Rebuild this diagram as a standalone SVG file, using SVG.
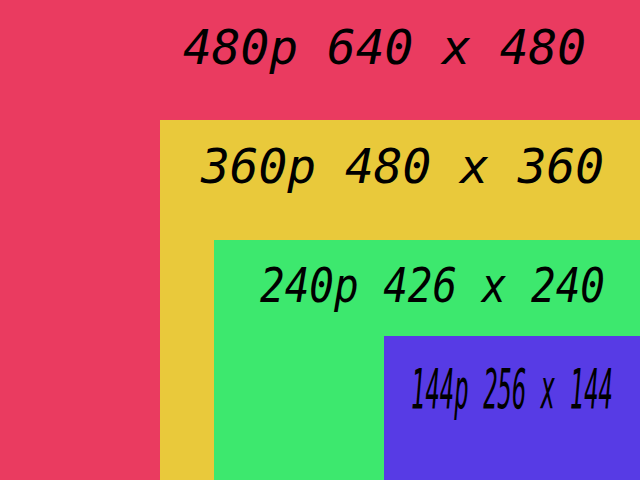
<svg xmlns="http://www.w3.org/2000/svg" width="640" height="480" viewBox="0 0 640 480">
<style>
text{font-family:"DejaVu Sans Mono",monospace;font-style:italic;fill:#000}
</style>
<g id="r480"><rect x="0" y="0" width="640" height="480" fill="#EA3B60"/>
<text x="183" y="64" font-size="48" textLength="403" lengthAdjust="spacingAndGlyphs">480p 640 x 480</text></g>
<g id="r360"><rect x="160" y="120" width="480" height="360" fill="#E9C93B"/>
<text x="201" y="183" font-size="48" textLength="403" lengthAdjust="spacingAndGlyphs">360p 480 x 360</text></g>
<g id="r240"><rect x="214" y="240" width="426" height="240" fill="#3DE86E"/>
<text x="260" y="302" font-size="48" textLength="345" lengthAdjust="spacingAndGlyphs">240p 426 x 240</text></g>
<g id="r144"><rect x="384" y="336" width="256" height="144" fill="#573BE5"/>
<text x="411" y="408" font-size="55" textLength="202" lengthAdjust="spacingAndGlyphs">144p 256 x 144</text></g>
</svg>
